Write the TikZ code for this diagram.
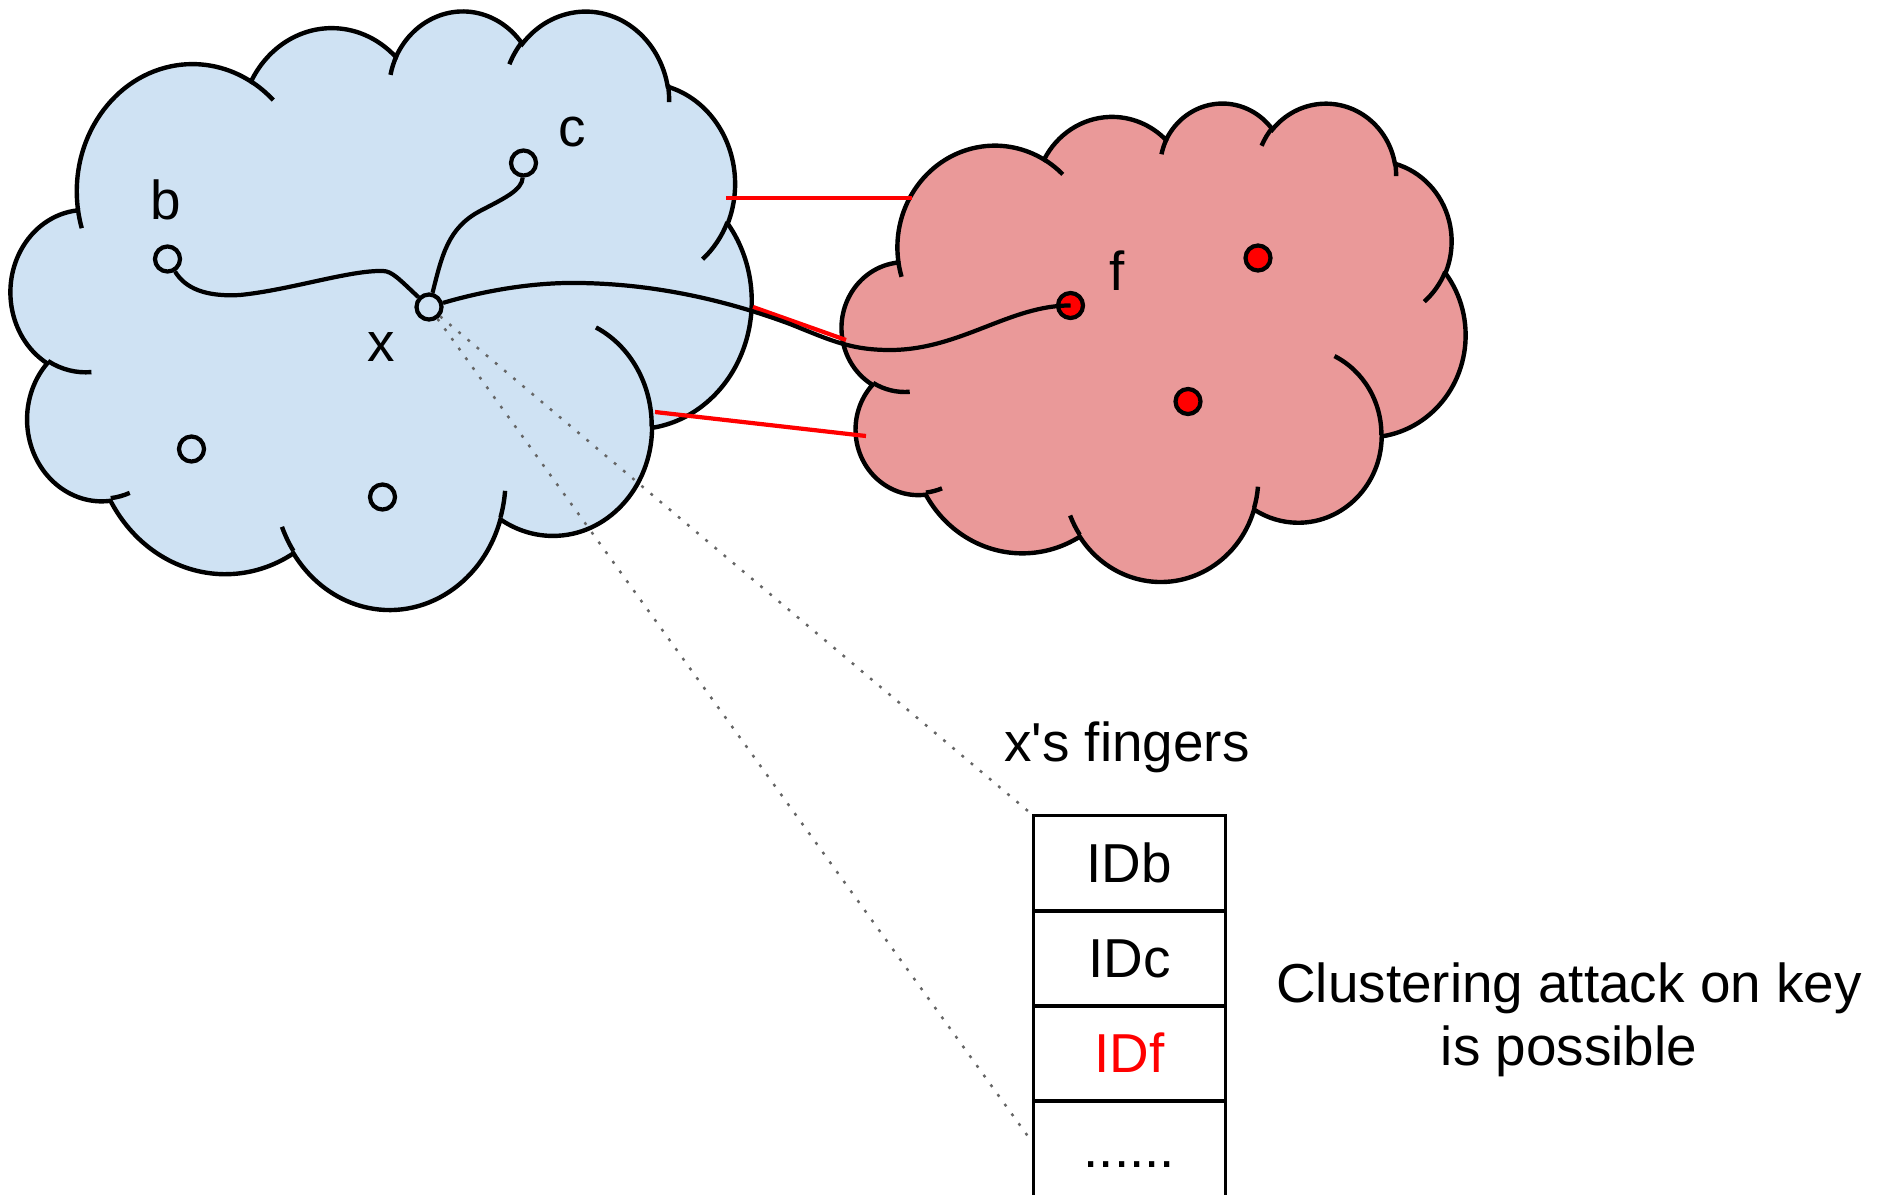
\documentclass[tikz,border=0pt]{standalone}
\usepackage{fontspec}
\setmainfont{Liberation Sans}

\definecolor{cloudblue}{RGB}{207,226,243}
\definecolor{cloudpink}{RGB}{234,153,153}
\definecolor{alarmred}{RGB}{255,0,0}

% One elliptic bump of a cloud outline, continuing from the current point.
% #1,#2: radii (box units); #3: start angle, #4: sweep, both taken as the
% direction seen from the centre, so they are turned into parameter angles.
\newcommand\bumparc[4]{%
  \pgfmathsetmacro\bumpA{#1}%
  \pgfmathsetmacro\bumpB{#2}%
  \pgfmathsetmacro\bumpS{atan2(\bumpA*sin(#3),\bumpB*cos(#3))}%
  \pgfmathsetmacro\bumpE{atan2(\bumpA*sin(#3+#4),\bumpB*cos(#3+#4))}%
  \pgfmathsetmacro\bumpE{ifthenelse(\bumpE<\bumpS,\bumpE+360,\bumpE)}%
  \pgfpatharc{\bumpS}{\bumpE}{\bumpA cm and \bumpB cm}%
}
% a short crease inside a cloud
\newcommand\crease[6]{%
  \pgfpathmoveto{\pgfpoint{#1cm}{#2cm}}%
  \bumparc{#3}{#4}{#5}{#6}%
}
% a whole cloud in a 43.2 x 43.2 box whose y axis points down
\newcommand\cloudbody[1]{%
  \pgfpathmoveto{\pgfpoint{3.900cm}{14.370cm}}%
  \bumparc{6.753}{9.190}{-190.487483}{123.780533}%
  \bumparc{5.333}{7.267}{-144.102383}{89.945233}%
  \bumparc{4.365}{5.945}{-145.807917}{99.723017}%
  \bumparc{4.857}{6.595}{-130.986067}{117.241733}%
  \bumparc{5.333}{7.273}{-78.708883}{109.026917}%
  \bumparc{6.775}{9.220}{-46.26725}{130.269}%
  \bumparc{5.785}{7.867}{0.625017}{114.033333}%
  \bumparc{6.752}{9.215}{22.4516}{115.17255}%
  \bumparc{7.720}{10.543}{66.242633}{75.711017}%
  \bumparc{4.360}{5.918}{-274.942083}{146.735567}%
  \bumparc{4.345}{5.945}{-246.8285}{152.51885}%
  \pgfpathclose
  \pgfsetfillcolor{#1}%
  \pgfusepath{fill,stroke}%
  \crease{4.693}{26.177}{4.345}{5.945}{86.742}{26.4295}%
  \crease{6.928}{34.899}{4.360}{5.918}{73.610467}{11.447467}%
  \crease{16.478}{39.090}{6.752}{9.215}{137.62415}{14.0811}%
  \crease{28.827}{34.751}{6.752}{9.215}{6.453267}{15.99835}%
  \crease{34.129}{22.954}{5.785}{7.867}{-70.29235}{70.917367}%
  \crease{41.798}{15.354}{5.333}{7.273}{30.318033}{27.7515}%
  \crease{38.324}{5.426}{4.857}{6.595}{-13.744333}{14.8589}%
  \crease{29.078}{3.952}{4.857}{6.595}{-149.18145}{18.195367}%
  \crease{22.141}{4.720}{4.365}{5.945}{-163.494267}{17.68635}%
  \crease{14.000}{5.192}{6.753}{9.190}{-66.70695}{12.31935}%
  \crease{4.127}{15.789}{6.753}{9.190}{157.65435}{11.858167}%
  \pgfusepath{stroke}%
}

\begin{document}
\begin{tikzpicture}[x=0.01cm, y=-0.01cm,
    every node/.style={font=\fontsize{15.6}{17.8}\selectfont},
    peer/.style={circle, draw, line width=1.2pt, inner sep=0pt, minimum size=0.25cm},
    rogue/.style={peer, fill=alarmred},
    wire/.style={line width=1.2pt},
    bridge/.style={draw=alarmred, line width=1.2pt},
    zoomline/.style={draw=black!60, line width=0.7pt, dash pattern=on 0.8pt off 2.6pt},
    cell/.style={draw, line width=0.85pt, minimum width=1.914cm, minimum height=0.95cm,
                 inner sep=0pt, text height=11.7pt, text depth=0.8pt}]
\useasboundingbox (0,0) rectangle (1889,1194);

% the two overlay networks
\begin{scope}[shift={(11,9.5)}, xscale=0.171296, yscale=-0.138426, line width=1.25pt]
  \cloudbody{cloudblue}
\end{scope}
\begin{scope}[shift={(842,102)}, xscale=0.144213, yscale=-0.110648, line width=1.25pt]
  \cloudbody{cloudpink}
\end{scope}

% links between the two networks
\coordinate (ua) at (726,198);   \coordinate (ub) at (912,198);
\coordinate (ma) at (753,307);   \coordinate (mb) at (846,340);
\coordinate (la) at (655,412);   \coordinate (lb) at (866,436);
\draw[bridge] (ua) -- (ub);
\draw[bridge] (ma) -- (mb);
\draw[bridge] (la) -- (lb);

% peers
\node[peer] (b) at (167.5,259) {};
\node[peer] (c) at (523.5,163) {};
\node[peer] (x) at (429,307) {};
\node[peer] (p1) at (191.5,449) {};
\node[peer] (p2) at (382.5,497) {};
\node[rogue] (f) at (1070.5,305.5) {};
\node[rogue] (r1) at (1258,258) {};
\node[rogue] (r2) at (1188,401.5) {};

\node (lbl-b) at (165.5,200) {b};
\node (lbl-c) at (572,132) {c};
\node (lbl-x) at (381,347) {x};
\node (lbl-f) at (1117,270.5) {f};

% finger links of x
\draw[wire] (b) .. controls (185,288) and (205,297) .. (240,295)
            .. controls (290,290) and (350,270) .. (383,271)
            .. controls (392,271) and (400,280) .. (x);
\draw[wire] (x) .. controls (442,255) and (448,228) .. (480,211)
            .. controls (505,198) and (522,190) .. (c);
\draw[wire] (x) .. controls (480,292) and (530,282) .. (580,283)
            .. controls (650,284) and (720,298) .. (790,324)
            .. controls (830,340) and (850,350) .. (890,350)
            .. controls (960,350) and (1010,305) .. (f.center);

% finger table of x
\node[cell] (idb) at (1129.3,863.5) {IDb};
\node[cell] (idc) at (1129.3,958.5) {IDc};
\node[cell, text=alarmred] (idf) at (1129.3,1053.5) {IDf};
\node[cell] (more) at (1129.3,1148.5) {......};
\node (title) at (1127,747) {x\XeTeXglyph\XeTeXcharglyph"27 s fingers};

\draw[zoomline] (x) -- (idb.north west);
\draw[zoomline] (x) -- ([yshift=0.065cm]more.west);

\node[align=center] (note) at (1569,1020) {Clustering attack on key\\is possible};
\end{tikzpicture}
\end{document}
